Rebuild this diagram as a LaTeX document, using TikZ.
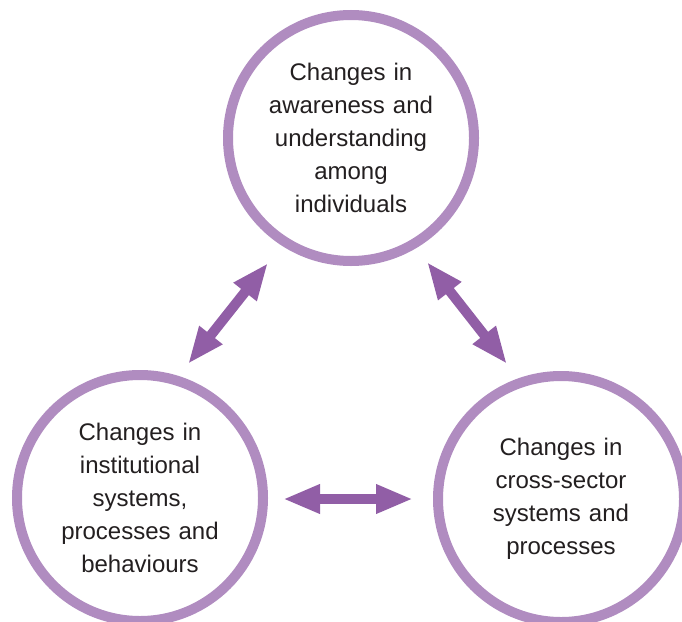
\documentclass[tikz,border=0pt]{standalone}
\usepackage{fontspec}
\setmainfont{Liberation Sans}
\usepackage{tikz}
\usetikzlibrary{arrows.meta}
\definecolor{ringpurple}{RGB}{176,140,192}
\definecolor{arrowpurple}{RGB}{145,94,166}
\definecolor{textgrey}{RGB}{35,31,32}
\tikzstyle{change}=[circle,draw=ringpurple,line width=10pt,fill=white,minimum size=246pt,inner sep=0pt,text width=175pt,align=center,text=textgrey,font=\fontsize{24pt}{33pt}\selectfont]
\tikzstyle{link} = [draw=arrowpurple,line width=10pt,{Triangle[length=37pt,width=27pt]}-{Triangle[length=37pt,width=27pt]},arrowpurple]

\begin{document}
\begin{tikzpicture}[x=1pt,y=-1pt]
      \useasboundingbox (0,0) rectangle (682,621);
      \node[change] (aware) at (351,138) {Changes in\\awareness and\\understanding\\among\\individuals};
      \node[change] (inst) at (140,498) {Changes in\\institutional\\systems,\\processes and\\behaviours};
      \node[change] (cross) at (561,499) {Changes in\\cross-sector\\systems and\\processes};
      \coordinate (al) at (268,263);
      \coordinate (il) at (188,364);
      \coordinate (ar) at (427,262);
      \coordinate (cr) at (507,364);
      \coordinate (ih) at (283,499);
      \coordinate (ch) at (413,499);
      \draw[link] (al) to (il);
      \draw[link] (ar) to (cr);
      \draw[link] (ih) to (ch);
    \end{tikzpicture}
\end{document}
